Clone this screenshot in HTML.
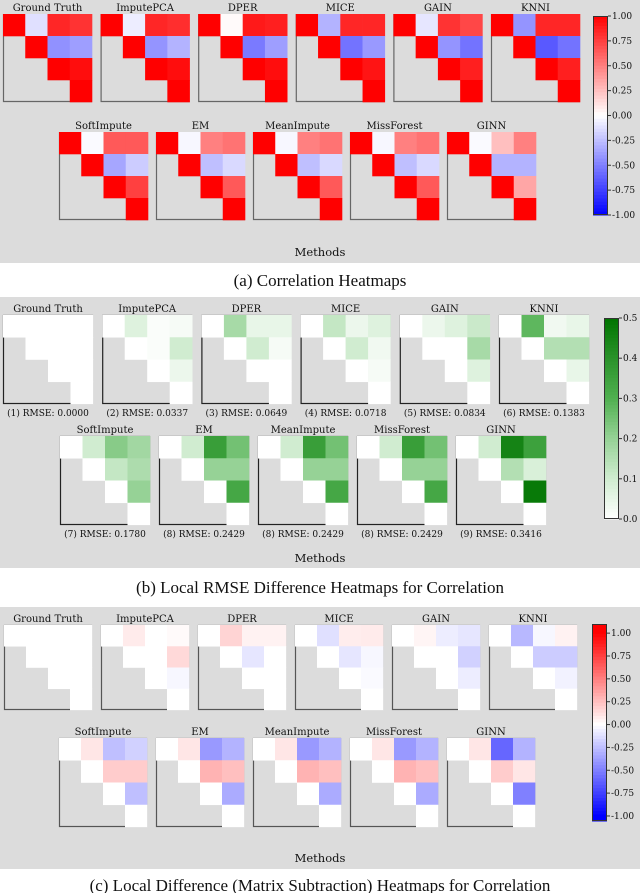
<!DOCTYPE html>
<html><head><meta charset="utf-8"><style>
html,body{margin:0;padding:0;background:#fff;}
svg{display:block;}
text{font-family:"DejaVu Serif","Liberation Serif",serif;fill:#111;}
.cap{font-family:"Liberation Serif",serif;font-size:17px;}
</style></head><body>
<svg id="fig" width="640" height="893" viewBox="0 0 640 893" xmlns="http://www.w3.org/2000/svg"></svg>
<script>
const methods = ["Ground Truth","ImputePCA","DPER","MICE","GAIN","KNNI","SoftImpute","EM","MeanImpute","MissForest","GINN"];
// upper-triangle off-diagonal values: (0,1),(0,2),(0,3),(1,2),(1,3),(2,3)
const corrValues = [
 [-0.12,0.85,0.80,-0.43,-0.38,0.95],
 [-0.07,0.85,0.82,-0.42,-0.30,0.95],
 [0.02,0.90,0.88,-0.52,-0.38,0.95],
 [-0.30,0.85,0.85,-0.55,-0.40,0.92],
 [-0.10,0.80,0.72,-0.42,-0.55,0.88],
 [-0.42,0.85,0.85,-0.65,-0.55,0.88],
 [-0.02,0.65,0.65,-0.35,-0.20,0.75],
 [-0.03,0.50,0.55,-0.25,-0.15,0.65],
 [-0.03,0.50,0.55,-0.25,-0.15,0.65],
 [-0.03,0.50,0.55,-0.25,-0.15,0.65],
 [-0.02,0.25,0.50,-0.30,-0.30,0.35]
];
const rmseValues = [
 [0,0,0,0,0,0],
 [0.07,0.01,0.02,0.01,0.10,0.04],
 [0.17,0.05,0.05,0.10,0.02,0.00],
 [0.12,0.04,0.07,0.10,0.03,0.02],
 [0.04,0.07,0.11,0.00,0.17,0.07],
 [0.28,0.03,0.05,0.15,0.15,0.05],
 [0.10,0.22,0.18,0.12,0.16,0.20],
 [0.10,0.36,0.25,0.20,0.20,0.33],
 [0.10,0.36,0.25,0.20,0.20,0.33],
 [0.10,0.36,0.25,0.20,0.20,0.33],
 [0.10,0.45,0.35,0.15,0.08,0.48]
];
const rmseLabels = ["(1) RMSE: 0.0000","(2) RMSE: 0.0337","(3) RMSE: 0.0649","(4) RMSE: 0.0718","(5) RMSE: 0.0834","(6) RMSE: 0.1383","(7) RMSE: 0.1780","(8) RMSE: 0.2429","(8) RMSE: 0.2429","(8) RMSE: 0.2429","(9) RMSE: 0.3416"];
const diffValues = [
 [0,0,0,0,0,0],
 [0.08,0.00,0.02,0.00,0.15,-0.03],
 [0.17,0.05,0.05,-0.10,0.00,0.00],
 [-0.12,0.07,0.08,-0.10,-0.03,-0.02],
 [0.04,-0.07,-0.10,0.00,-0.18,-0.07],
 [-0.28,-0.03,0.05,-0.20,-0.20,-0.05],
 [0.10,-0.25,-0.18,0.20,0.20,-0.25],
 [0.10,-0.40,-0.30,0.30,0.25,-0.33],
 [0.10,-0.40,-0.30,0.30,0.25,-0.33],
 [0.10,-0.40,-0.30,0.30,0.25,-0.33],
 [0.10,-0.60,-0.30,0.20,0.10,-0.50]
];
const corrTicks = ["1.00","0.75","0.50","0.25","0.00","-0.25","-0.50","-0.75","-1.00"];
const rmseTicks = ["0.5","0.4","0.3","0.2","0.1","0.0"];
const diffTicks = ["1.00","0.75","0.50","0.25","0.00","-0.25","-0.50","-0.75","-1.00"];

const NS="http://www.w3.org/2000/svg";
const svg=document.getElementById('fig');
function mk(tag,attrs,parent){const e=document.createElementNS(NS,tag);for(const k in attrs)e.setAttribute(k,attrs[k]);(parent||svg).appendChild(e);return e;}
function txt(s,x,y,size,anchor,cls,parent){const t=mk('text',{x:x,y:y,'font-size':size,'text-anchor':anchor||'middle'},parent);if(cls)t.setAttribute('class',cls);t.textContent=s;return t;}
function bwr(v){v=Math.max(-1,Math.min(1,v));let r,g,b;if(v>=0){r=255;g=b=Math.round(255*(1-v));}else{b=255;r=g=Math.round(255*(1+v));}return `rgb(${r},${g},${b})`;}
const gStops=[[0,255,255,255],[0.1,208,236,208],[0.2,150,210,150],[0.3,80,176,80],[0.4,42,146,42],[0.5,0,116,0]];
function greens(v){v=Math.max(0,Math.min(0.5,v));for(let i=1;i<gStops.length;i++){if(v<=gStops[i][0]){const a=gStops[i-1],b=gStops[i];const t=(v-a[0])/(b[0]-a[0]);const c=[1,2,3].map(k=>Math.round(a[k]+(b[k]-a[k])*t));return `rgb(${c[0]},${c[1]},${c[2]})`;}}return 'rgb(0,116,0)';}
function fullMatrix(vals,diag){return [[diag,vals[0],vals[1],vals[2]],[null,diag,vals[3],vals[4]],[null,null,diag,vals[5]],[null,null,null,diag]];}

function heatmap(parent,x,y,w,h,vals,diag,cmap,spine,name,title,label,labelY){
  const g=mk('g',{},parent);
  
  
  if(spine==='lb'){mk('path',{d:`M${x+0.5},${y} V${y+h-0.5} H${x+w}`,stroke:'#666',fill:'none','stroke-width':1.2},g);}
  else{mk('rect',{x:x+0.5,y:y+0.5,width:w-1,height:h-1,fill:'none',stroke:spine,'stroke-width':1.2},g);}
  const m=fullMatrix(vals,diag);const cw=w/4,ch=h/4;
  for(let i=0;i<4;i++)for(let j=0;j<4;j++){if(m[i][j]===null)continue;
    const c=mk('rect',{x:x+j*cw,y:y+i*ch,width:cw+0.3,height:ch+0.3,fill:cmap(m[i][j])},g);
    
    }
  const t=txt(title,x+w/2,y-3,10,'middle',null,g);
  
  
  if(label){const l=txt(label,x+w/2,labelY,9,'middle',null,g);
    
    }
}
function colorbar(parent,x,y0,y1,w,vmin,vmax,cmap,ticks,tickVals,name){
  const g=mk('g',{},parent);
  
  
  const n=60;
  for(let k=0;k<n;k++){const v=vmax-(k+0.5)/n*(vmax-vmin);mk('rect',{x:x,y:y0+k*(y1-y0)/n,width:w,height:(y1-y0)/n+0.5,fill:cmap(v)},g);}
  mk('rect',{x:x+0.5,y:y0+0.5,width:w-1,height:y1-y0-1,fill:'none',stroke:'#333','stroke-width':1},g);
  ticks.forEach((s,i)=>{const v=tickVals[i];const yy=y0+(vmax-v)/(vmax-vmin)*(y1-y0);
    mk('line',{x1:x+w,x2:x+w+3,y1:yy,y2:yy,stroke:'#333'},g);
    const t=txt(s,x+w+4,yy+3,9,'start',null,g);
    
    });
}
function panel(name,y0,y1,methodsY,capY,caption){
  const g=mk('g',{});
  
  
  mk('rect',{x:0,y:y0,width:640,height:y1-y0,fill:'#dcdcdc'},g);
  const m=txt('Methods',320,methodsY,11.5,'middle',null,g);
  
  
  const c=txt(caption,320,capY,17,'middle','cap',g);
  
  
  return g;
}
function slug(s){return s.toLowerCase().replace(/\s+/g,'-');}

// Panel A
const pa=panel('panel-correlation',0,263,256,286,'(a) Correlation Heatmaps');
methods.forEach((mname,i)=>{const r1=i<6;const x=r1?3+97.6*i:59+97*(i-6);const y=r1?14:132;
  heatmap(pa,x,y,89,88,corrValues[i],1,bwr,'lb','corr-heatmap-'+slug(mname),mname);});
colorbar(pa,593,16,215,15,-1,1,bwr,corrTicks,corrTicks.map(Number),'corr-colorbar');

// Panel B
const pb=panel('panel-rmse',297,568,562,593,'(b) Local RMSE Difference Heatmaps for Correlation');
methods.forEach((mname,i)=>{const r1=i<6;const x=r1?3+99.2*i:60+99*(i-6);const y=r1?315:436;
  heatmap(pb,x,y,90,89,rmseValues[i],0,greens,'#222','rmse-heatmap-'+slug(mname),mname,rmseLabels[i],r1?416:537);});
colorbar(pb,604,318,519,15,0,0.5,greens,rmseTicks,rmseTicks.map(Number),'rmse-colorbar');

// Panel C
const pc=panel('panel-difference',607,869,862,891,'(c) Local Difference (Matrix Subtraction) Heatmaps for Correlation');
methods.forEach((mname,i)=>{const r1=i<6;const x=r1?4+97*i:59+97*(i-6);const y=r1?625:738;const h=r1?85:89;
  heatmap(pc,x,y,88,h,diffValues[i],0,bwr,'#555','diff-heatmap-'+slug(mname),mname);});
colorbar(pc,592,624,821,15,-1.055,1.1,bwr,diffTicks,diffTicks.map(Number),'diff-colorbar');
</script>
</body></html>
